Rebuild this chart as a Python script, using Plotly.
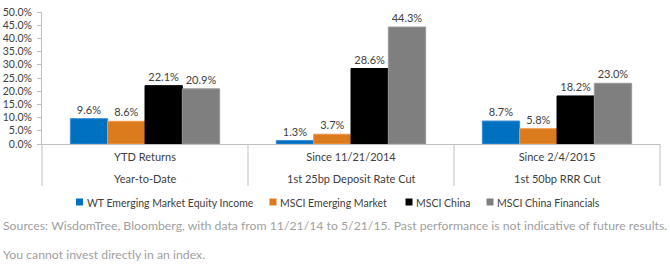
import plotly.graph_objects as go

categories = ["YTD Returns", "Since 11/21/2014", "Since 2/4/2015"]
subcategories = ["Year-to-Date", "1st 25bp Deposit Rate Cut", "1st 50bp RRR Cut"]
series_names = ["WT Emerging Market Equity Income", "MSCI Emerging Market", "MSCI China", "MSCI China Financials"]
wt_em_equity_income = [0.096, 0.013, 0.087]
msci_em = [0.086, 0.037, 0.058]
msci_china = [0.221, 0.286, 0.182]
msci_china_fin = [0.209, 0.443, 0.230]
series_values = [wt_em_equity_income, msci_em, msci_china, msci_china_fin]
y_tick_vals = [i * 0.05 for i in range(11)]
source_lines = [
    "Sources: WisdomTree, Bloomberg, with data from 11/21/14 to 5/21/15. Past performance is not indicative of future results.",
    "You cannot invest directly in an index.",
]

colors = ["#0070C0", "#DC7A1E", "#000000", "#7F7F7F"]
line_colors = ["#3A8FD6", "#F09A4A", "#000000", "#9A9A9A"]
legend_square_px = [79.5, 273, 409, 490]

W, H = 670, 271
L, R, T, B = 42, 660, 12, 144
pw, ph = R - L, B - T


def px_x(x):
    return (x - L) / pw


def px_y(y):
    return (B - y) / ph


FONT = "Lato"
TXT = "#404040"

fig = go.Figure()
shapes = []
annotations = []
for k, (name, vals, c, lc) in enumerate(zip(series_names, series_values, colors, line_colors)):
    fig.add_trace(go.Bar(
        x=categories, y=vals, name=name, showlegend=False,
        marker=dict(color=c, line=dict(color=lc, width=1)),
        texttemplate="%{y:.1%}", textposition="outside",
        textfont=dict(family=FONT, size=11, color=TXT),
        cliponaxis=False,
    ))
    # legend entry: square + label
    cx, cy = legend_square_px[k], 202
    shapes.append(dict(type="rect", xref="paper", yref="paper",
                       x0=px_x(cx - 3.5), x1=px_x(cx + 3.5),
                       y0=px_y(cy + 3.5), y1=px_y(cy - 3.5),
                       fillcolor=c, line=dict(width=0)))
    annotations.append(dict(text=name, x=px_x(cx + 5), xref="paper", y=px_y(cy + 1), yref="paper",
                            showarrow=False, xanchor="left", yanchor="middle",
                            font=dict(family=FONT, size=10.5, color=TXT)))

n = len(categories)
for i in range(n + 1):
    shapes.append(dict(type="line", xref="paper", yref="paper",
                       x0=i / n, x1=i / n, y0=0, y1=px_y(186),
                       line=dict(color="#BFBFBF", width=1)))

for i, s in enumerate(subcategories):
    annotations.append(dict(text=s, x=categories[i], xref="x", y=px_y(178), yref="paper",
                            showarrow=False, xanchor="center", yanchor="middle",
                            font=dict(family=FONT, size=11, color=TXT)))
for j, (line, yy) in enumerate(zip(source_lines, [225, 254])):
    annotations.append(dict(text=line, x=px_x(1), xref="paper", y=px_y(yy), yref="paper",
                            showarrow=False, xanchor="left", yanchor="middle",
                            font=dict(family=FONT, size=12.25, color="#A0A0A0")))

fig.update_layout(
    width=W, height=H,
    margin=dict(l=L, r=W - R, t=T, b=H - B, pad=0, autoexpand=False),
    paper_bgcolor="white", plot_bgcolor="white",
    showlegend=False,
    barmode="group", bargap=0.275, bargroupgap=0,
    font=dict(family=FONT, size=11, color=TXT),
    xaxis=dict(type="category", showline=True, linecolor="#BFBFBF", linewidth=1,
               ticks="", showgrid=False, tickfont=dict(family=FONT, size=11, color=TXT),
               ticklabelstandoff=3, range=[-0.5, n - 0.5], automargin=False),
    yaxis=dict(range=[0, 0.5], tickvals=y_tick_vals, tickformat=".1%",
               showline=True, linecolor="#BFBFBF", linewidth=1, ticks="outside",
               ticklen=4, tickcolor="#BFBFBF", showgrid=False, zeroline=False,
               ticklabelstandoff=3, automargin=False,
               tickfont=dict(family=FONT, size=10.5, color=TXT)),
    shapes=shapes, annotations=annotations,
)

fig.write_html("out.html")
